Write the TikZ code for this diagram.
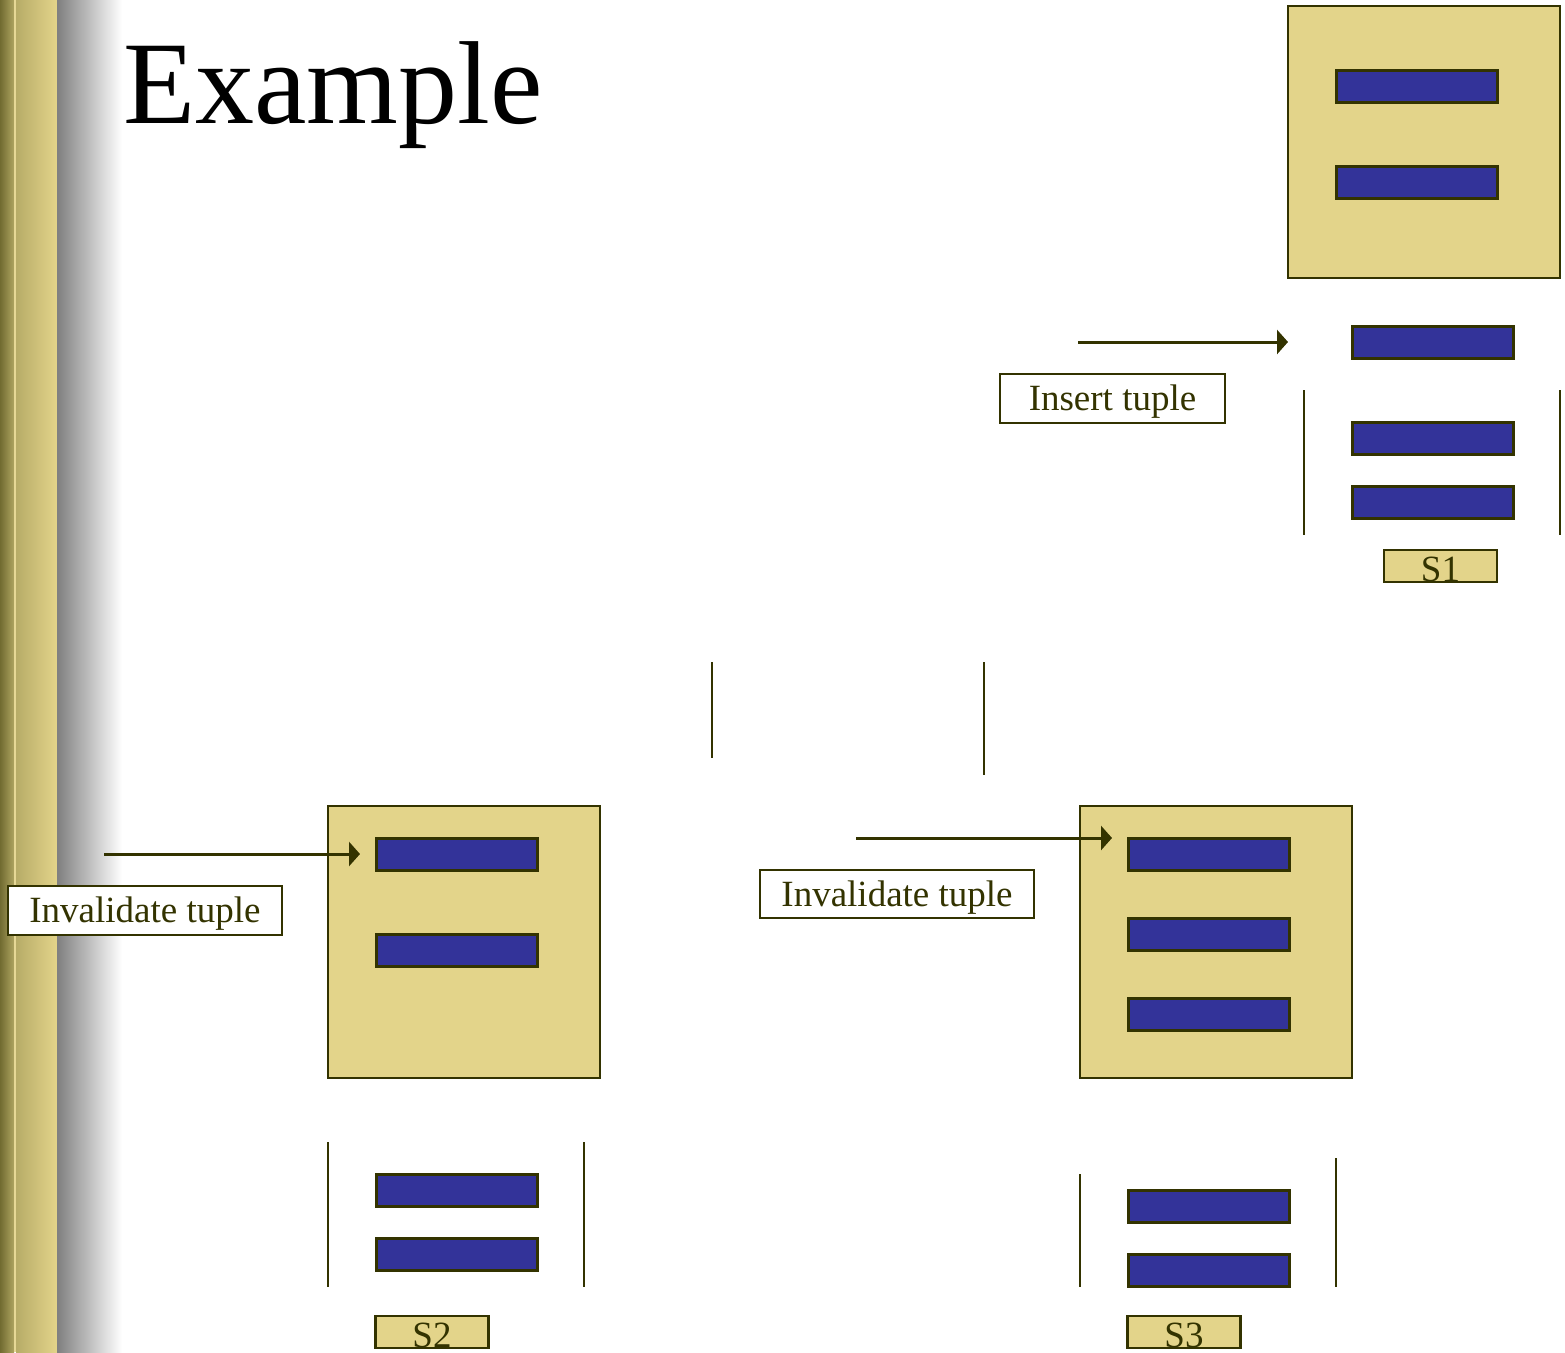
\documentclass[tikz,border=0pt]{standalone}
\usepackage{fontspec}
\setmainfont{Liberation Serif}
\usepackage{xcolor}
\usetikzlibrary{arrows.meta}
\definecolor{sitegold}{HTML}{E3D48A}
\definecolor{tupleblue}{HTML}{333399}
\definecolor{inkolive}{HTML}{333300}
\def\labelsize{\fontsize{37}{44}\selectfont}

\tikzset{
  site/.style={draw=inkolive, line width=2.5pt, fill=sitegold, minimum width=272pt, minimum height=272pt, inner sep=0pt},
  tuple/.style={draw=inkolive, line width=3pt, fill=tupleblue, minimum width=161pt, minimum height=32pt, inner sep=0pt},
  tag/.style={draw=inkolive, line width=2.5pt, fill=sitegold, text=inkolive, font=\labelsize, minimum width=113pt, minimum height=32pt, inner sep=0pt, text height=30pt, text depth=0pt},
  note/.style={draw=inkolive, line width=2.5pt, fill=white, text=inkolive, font=\labelsize, minimum height=49pt, inner sep=0pt, text height=32pt, text depth=8pt},
  push/.style={draw=inkolive, line width=3pt, -{Triangle[length=11pt,width=24pt]}},
  wall/.style={draw=inkolive, line width=2.5pt}
}

\begin{document}
\begin{tikzpicture}[x=1pt,y=-1pt]
      \useasboundingbox (0,0) rectangle (1565,1352);
      % side band
      \shade[left color=inkolive!65!sitegold, right color=inkolive!30!sitegold] (0,0) rectangle (14,1352);
      \fill[sitegold!90!white] (14,0) rectangle (16,1352);
      \shade[left color=inkolive!25!sitegold, right color=sitegold] (16,0) rectangle (57,1352);
      \shade[left color=black!50, right color=white] (57,0) rectangle (122,1352);

      \node[anchor=base west, inner sep=0pt, font=\fontsize{118}{130}\selectfont] (title) at (123,123) {Example};

      % site S1
      \node[site] (s1) at (1424,142) {};
      \foreach \y [count=\k] in {86,182}
        \node[tuple] (s1in\k) at (1416.5,\y) {};
      \foreach \y [count=\k] in {342,438,502}
        \node[tuple] (s1out\k) at (1432.5,\y) {};
      \node[tag] (s1tag) at (1440.5,566) {S1};
      \node[note, minimum width=225pt] (insert) at (1112.5,398.5) {Insert tuple};
      \coordinate (insfrom) at (1078,342);
      \coordinate (insto) at (1288,342);
      \draw[push] (insfrom) -- (insto);
      \draw[wall] (1304,390) -- (1304,535);
      \draw[wall] (1560,390) -- (1560,535);

      % middle strokes
      \draw[wall] (712,662) -- (712,758);
      \draw[wall] (984,662) -- (984,775);

      % site S2
      \node[site] (s2) at (464,942) {};
      \foreach \y [count=\k] in {854,950}
        \node[tuple] (s2in\k) at (456.5,\y) {};
      \foreach \y [count=\k] in {1190,1254}
        \node[tuple] (s2out\k) at (456.5,\y) {};
      \node[tag] (s2tag) at (432,1332) {S2};
      \node[note, minimum width=274pt] (inval2) at (145,910.5) {Invalidate tuple};
      \coordinate (inv2from) at (104,854);
      \coordinate (inv2to) at (360,854);
      \draw[push] (inv2from) -- (inv2to);
      \draw[wall] (328,1142) -- (328,1287);
      \draw[wall] (584,1142) -- (584,1287);

      % site S3
      \node[site] (s3) at (1216,942) {};
      \foreach \y [count=\k] in {854,934,1014}
        \node[tuple] (s3in\k) at (1208.5,\y) {};
      \foreach \y [count=\k] in {1206,1270}
        \node[tuple] (s3out\k) at (1208.5,\y) {};
      \node[tag] (s3tag) at (1184,1332) {S3};
      \node[note, minimum width=274pt, minimum height=48pt] (inval3) at (897,894) {Invalidate tuple};
      \coordinate (inv3from) at (856,838);
      \coordinate (inv3to) at (1112,838);
      \draw[push] (inv3from) -- (inv3to);
      \draw[wall] (1080,1174) -- (1080,1287);
      \draw[wall] (1336,1158) -- (1336,1287);
    \end{tikzpicture}
\end{document}
